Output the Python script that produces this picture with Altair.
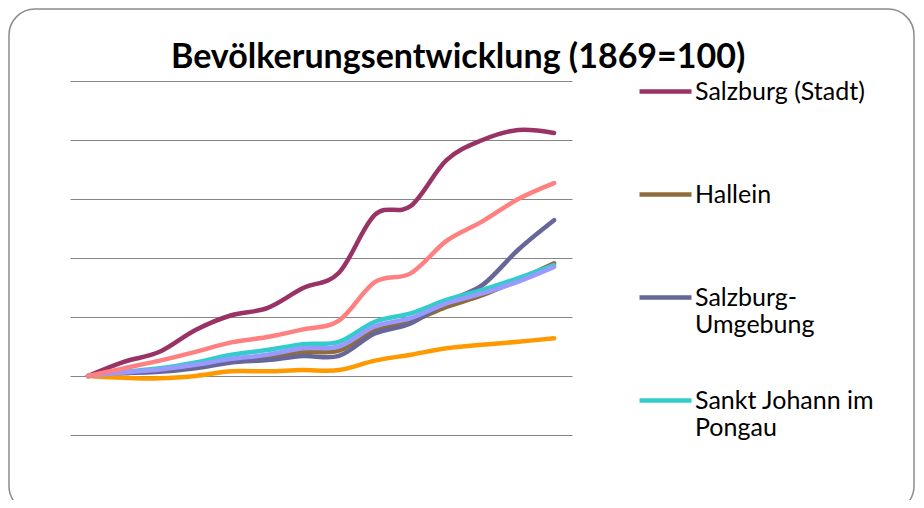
import altair as alt
import pandas as pd

years = ["1869", "1880", "1890", "1900", "1910", "1923", "1934",
         "1939", "1951", "1961", "1971", "1981", "1991", "2001"]

salzburg_stadt = [100, 124, 141, 178, 203, 215, 249, 275, 373, 388, 466, 500, 517, 512]
hallein = [100, 105, 108, 119, 125, 132, 141, 143, 178, 192, 217, 237, 263, 291]
salzburg_umgebung = [100, 105, 107, 113, 123, 127, 134, 134, 172, 189, 226, 254, 314, 364]
st_johann = [100, 107, 113, 123, 136, 144, 154, 158, 192, 206, 229, 246, 266, 288]
tamsweg = [100, 97, 96, 100, 108, 108, 110, 110, 126, 136, 147, 153, 158, 164]
zell_am_see = [100, 106, 111, 119, 129, 136, 147, 150, 184, 198, 223, 240, 260, 285]
land_salzburg = [100, 113, 126, 141, 157, 166, 179, 194, 259, 274, 329, 362, 400, 427]

series_names = ["Salzburg (Stadt)", "Hallein", "Salzburg-Umgebung",
                "Sankt Johann im Pongau", "Tamsweg", "Zell am See", "Land Salzburg"]
series_values = [salzburg_stadt, hallein, salzburg_umgebung, st_johann,
                 tamsweg, zell_am_see, land_salzburg]
series_colors = ["#993366", "#8F6C39", "#666699", "#33CCCC",
                 "#FF9900", "#9999FF", "#FF8080"]
grid_values = [0, 100, 200, 300, 400, 500, 600]

rows = []
for k, (name, vals) in enumerate(zip(series_names, series_values)):
    for y, v in zip(years, vals):
        rows.append({"Jahr": y, "Index": v, "Gebiet": name, "k": k})
df = pd.DataFrame(rows)

label_expr = ("datum.label == 'Salzburg-Umgebung' ? ['Salzburg-', 'Umgebung'] : "
              "datum.label == 'Sankt Johann im Pongau' ? ['Sankt Johann im', 'Pongau'] : "
              "[datum.label, ' ']")


def build(extra_legend):
    legend = alt.Legend(values=series_names[:4], title=None, orient="none",
                        legendX=567, legendY=-18, padding=0,
                        symbolType="stroke", symbolSize=2704,
                        symbolStrokeWidth=4.5, labelFont="Lato",
                        labelFontSize=25, labelColor="#000000",
                        labelLimit=400, labelOffset=1,
                        labelBaseline="middle",
                        labelExpr=label_expr, **extra_legend)

    lines = alt.Chart(df).mark_line(interpolate="cardinal", strokeWidth=4.5,
                                    strokeCap="round").encode(
        x=alt.X("Jahr:O", sort=years,
                scale=alt.Scale(type="point", padding=0.5),
                axis=alt.Axis(labels=False, ticks=False, domain=False, grid=False, title=None)),
        y=alt.Y("Index:Q", scale=alt.Scale(domain=[0, 600], nice=False),
                axis=alt.Axis(values=grid_values, labels=False, ticks=False, domain=False,
                              grid=True, gridColor="#868686", gridWidth=1, title=None)),
        color=alt.Color("Gebiet:N",
                        scale=alt.Scale(domain=series_names, range=series_colors),
                        legend=legend),
        detail="k:O",
    )

    frame = alt.Chart(pd.DataFrame({"a": [0]})).mark_rect(
        cornerRadius=26, fill="transparent", stroke="#8C8C8C", strokeWidth=1.5, clip=False
    ).encode(x=alt.value(-61), x2=alt.value(844), y=alt.value(-72), y2=alt.value(431))

    return alt.layer(frame, lines).properties(
        width=502, height=354,
        title=alt.TitleParams("Bevölkerungsentwicklung (1869=100)", font="Lato",
                              fontSize=34, fontWeight="bold", color="#000000",
                              anchor="start", frame="group", dx=101, dy=107, offset=13,
                              baseline="alphabetic"),
        autosize=alt.AutoSizeParams(type="none"),
        padding={"left": 62, "top": 73, "right": 343, "bottom": 65},
    ).configure(background="#FFFFFF").configure_view(strokeWidth=0)


try:
    chart = build({"labelLineHeight": 33, "rowPadding": 28})
    chart.to_dict()
except Exception:
    chart = build({"rowPadding": 34})

chart.save("out.html", embed_options={"renderer": "svg", "actions": False})
